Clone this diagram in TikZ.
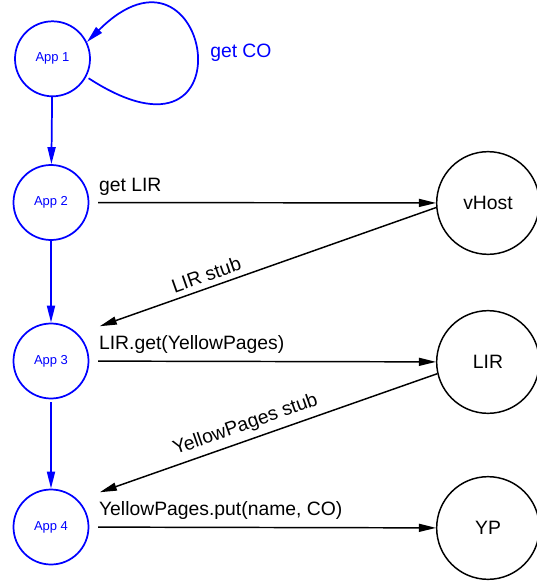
\documentclass[tikz,border=0pt]{standalone}
\usepackage{fontspec}
\setmainfont{Liberation Sans}
\usetikzlibrary{arrows.meta}

\tikzset{
	app/.style={draw=blue, circle, line width=1.3pt, minimum size=56.25pt,
		inner sep=0pt, text=blue, font=\fontsize{9.75}{11}\selectfont},
	host/.style={draw, circle, line width=1.1pt, minimum size=77pt,
		inner sep=0pt, font=\fontsize{14.5}{17}\selectfont},
	msg/.style={-{Triangle[length=12.75pt,width=6pt]}, line width=1.1pt},
	flow/.style={msg, blue, line width=1.3pt},
	lbl/.style={inner sep=0pt, font=\fontsize{14.5}{17}\selectfont}
}

\begin{document}
\begin{tikzpicture}[x=0.75pt, y=0.75pt]
	\useasboundingbox (0,0) rectangle (536,-581);
	
	% Apps
	\node [app] (App1) at (52.5,-58.8) {App 1};
	\node [app] (App2) at (51,-202.5) {App 2};
	\node [app] (App3) at (51,-361) {App 3};
	\node [app] (App4) at (51,-527) {App 4};
	
	% Hosts
	\node [host] (vHost) at (488,-203) {vHost};
	\node [host] (LIR) at (488,-362) {LIR};
	\node [host] (YP) at (488,-528) {YP};
	
	% App chain
	\draw [flow, shorten <=2pt] (App1.-28) .. controls +(-33:200) and +(45:175) .. (App1.26);
	\node [lbl, blue, anchor=base west] (getCO) at (210,-57.3) {get CO};
	
	\draw [flow] (App1) -- (App2);
	\draw [flow] (App2) -- (App3);
	\draw [flow, shorten <=2pt] (App3) -- (App4);
	
	% Messages
	\draw [msg, shorten <=6.5pt] (App2) -- node[lbl, pos=0, anchor=base west, xshift=6.75pt, yshift=8.6pt] {get LIR} (vHost);
	\draw [msg, shorten >=17.25pt] (vHost.185) -- node[lbl, sloped, pos=0.63, above=4pt] {LIR stub} (App3.north east);
	
	\draw [msg, shorten <=6.5pt] (App3) -- node[lbl, pos=0, anchor=base west, xshift=6.75pt, yshift=8.6pt] {LIR.get(YellowPages)} (LIR);
	\draw [msg, shorten >=17.25pt] (LIR.193) -- node[lbl, sloped, pos=0.52, above=4pt] {YellowPages stub} (App4.north east);
	
	\draw [msg, shorten <=6.5pt] (App4) -- node[lbl, pos=0, anchor=base west, xshift=6.75pt, yshift=8.6pt] {YellowPages.put(name, CO)} (YP);
	
\end{tikzpicture}
\end{document}
